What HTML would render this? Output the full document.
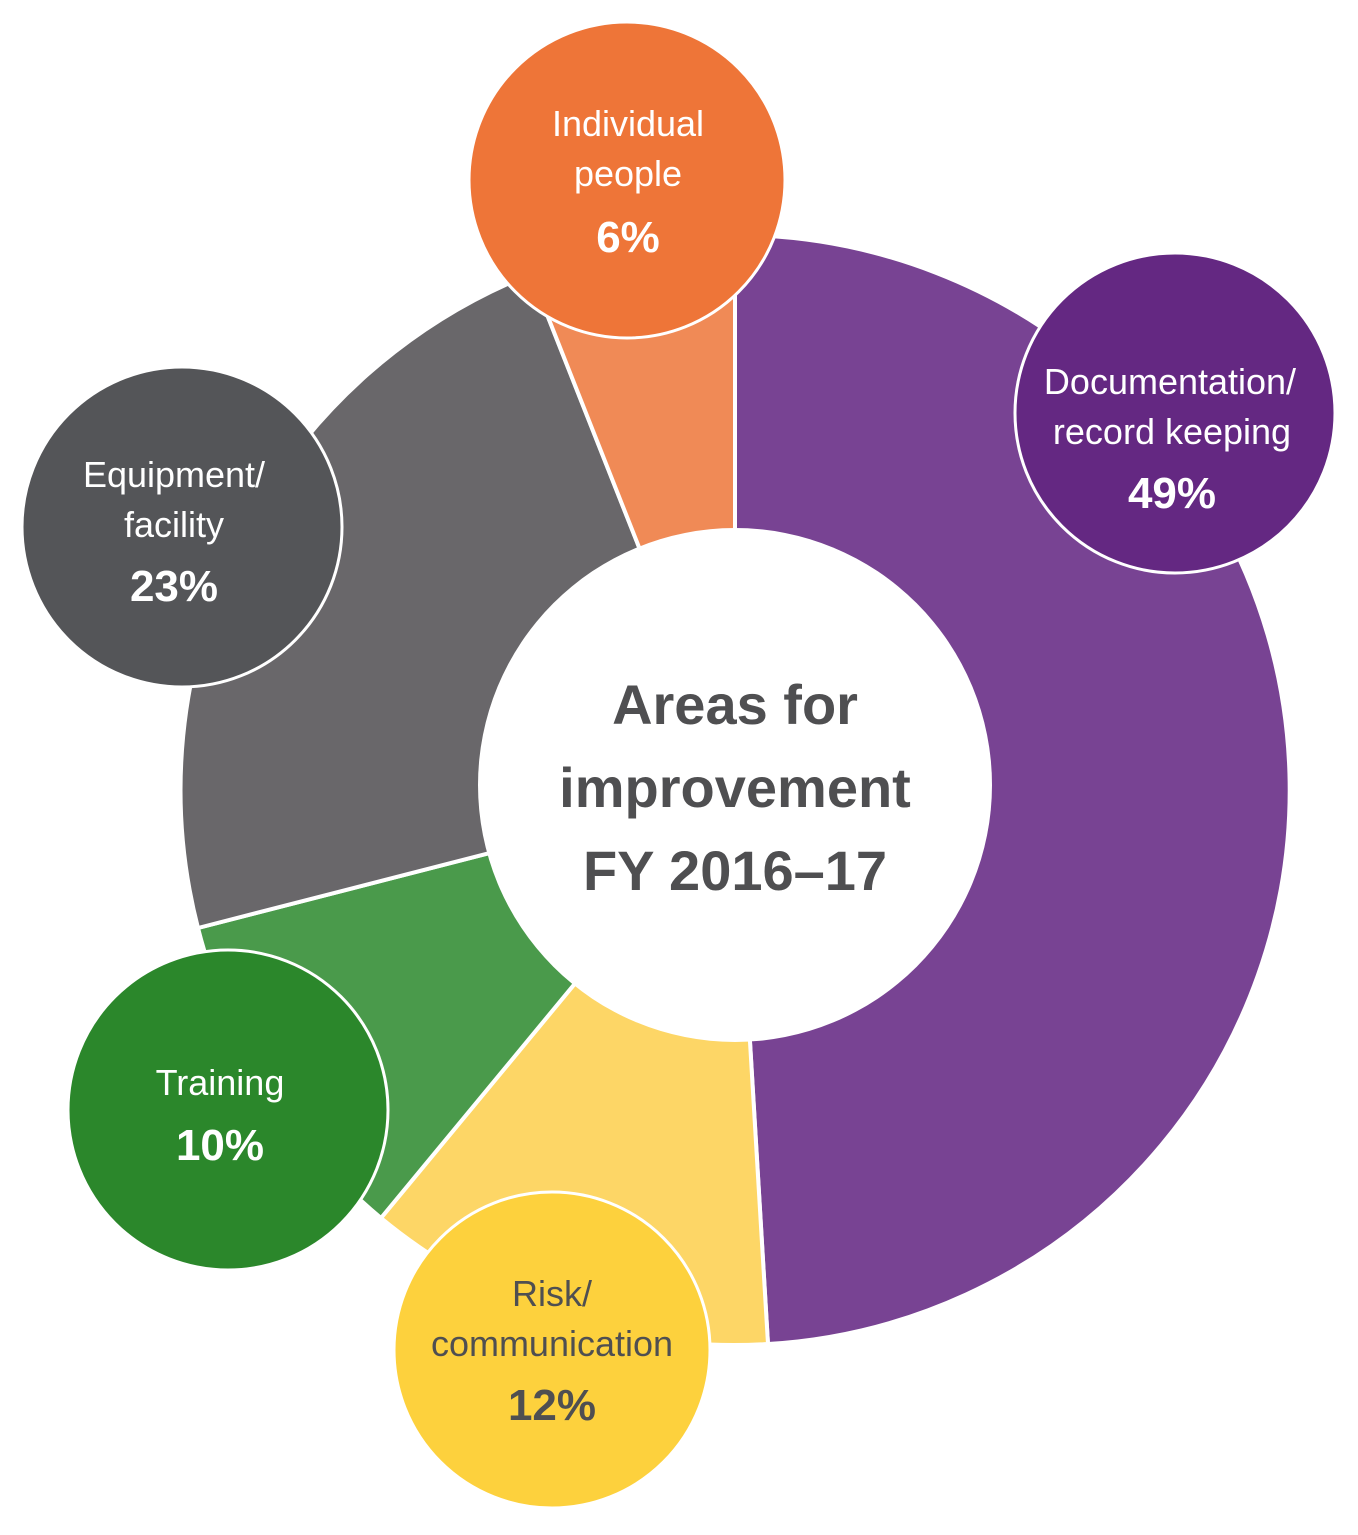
<!DOCTYPE html>
<html><head><meta charset="utf-8"><style>
html,body{margin:0;padding:0;background:#fff;}
svg{display:block;font-family:"Liberation Sans",sans-serif;}
</style></head><body>
<svg width="1358" height="1535" viewBox="0 0 1358 1535">
<g stroke="#fff" stroke-width="4" stroke-linejoin="round">
<path d="M735,790 L735,235 A555,555 0 0 1 768,1344 Z" fill="#784393"/>
<path d="M735,790 L768,1344 A555,555 0 0 1 381,1218 Z" fill="#fdd666"/>
<path d="M735,790 L381,1218 A555,555 0 0 1 198,928 Z" fill="#4a9a4b"/>
<path d="M735,790 L198,928 A555,555 0 0 1 531,274 Z" fill="#69676a"/>
<path d="M735,790 L531,274 A555,555 0 0 1 735,235 Z" fill="#f08a56"/>
</g>
<circle cx="735" cy="785" r="257" fill="#fff"/>
<g stroke="#fff" stroke-width="3">
<circle cx="627" cy="180" r="158" fill="#ee7538"/>
<circle cx="1175" cy="413" r="160" fill="#642882"/>
<circle cx="182" cy="527" r="160" fill="#545558"/>
<circle cx="228" cy="1110" r="160" fill="#2b872b"/>
<circle cx="552" cy="1350" r="158" fill="#fdd13d"/>
</g>
<g text-anchor="middle" fill="#fff" font-size="36">
<text x="628" y="136">Individual</text>
<text x="628" y="186">people</text>
<text x="628" y="252" font-weight="bold" font-size="44">6%</text>
<text x="1170" y="394">Documentation/</text>
<text x="1172" y="444">record keeping</text>
<text x="1172" y="508" font-weight="bold" font-size="44">49%</text>
<text x="174" y="487">Equipment/</text>
<text x="174" y="537">facility</text>
<text x="174" y="601" font-weight="bold" font-size="44">23%</text>
<text x="220" y="1095">Training</text>
<text x="220" y="1160" font-weight="bold" font-size="44">10%</text>
<g fill="#4f4f51">
<text x="552" y="1306">Risk/</text>
<text x="552" y="1356">communication</text>
<text x="552" y="1420" font-weight="bold" font-size="44">12%</text>
<text x="735" y="724" font-weight="bold" font-size="56">Areas for</text>
<text x="735" y="807" font-weight="bold" font-size="56">improvement</text>
<text x="735" y="890" font-weight="bold" font-size="56">FY 2016–17</text>
</g>
</g>
</svg>
</body></html>
